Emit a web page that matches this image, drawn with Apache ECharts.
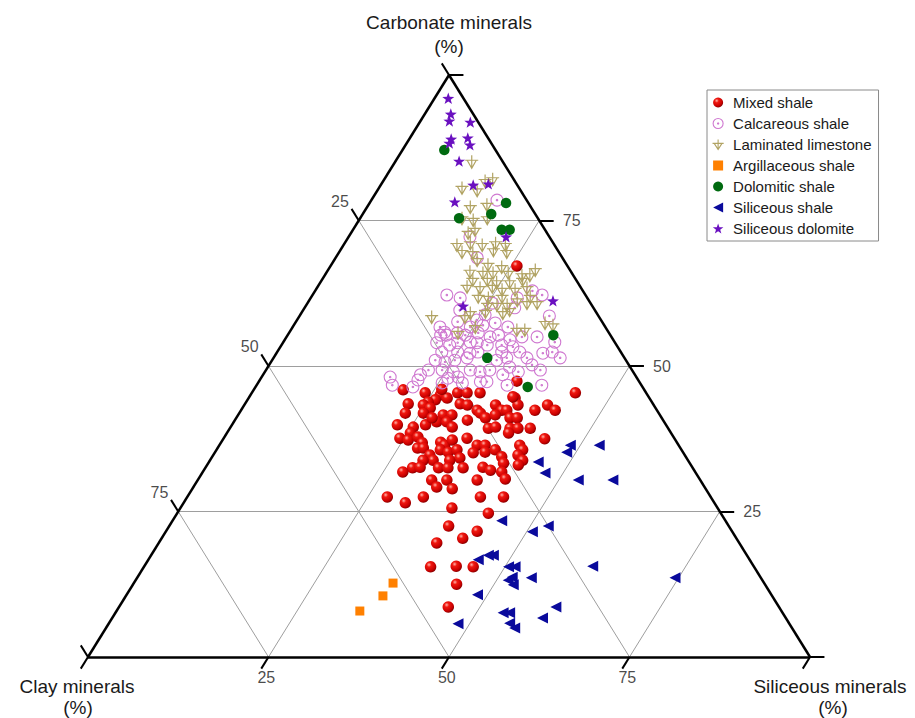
<!DOCTYPE html>
<html>
<head>
<meta charset="utf-8">
<script src="https://cdn.jsdelivr.net/npm/echarts@6/dist/echarts.min.js"></script>
<style>
  html, body { margin: 0; padding: 0; background: #ffffff; }
  #chart { width: 915px; height: 718px; }
</style>
</head>
<body>
<div id="chart"></div>
<script>
// Each sample is [carbonate %, siliceous %]; clay % is the remainder to 100.
const mixedShale = [
  [45.9,20.7],[45.4,24.0],[45.0,26.3],[44.2,26.0],[43.8,25.2],[44.5,27.5],[45.4,28.5],[45.4,29.8],[43.5,22.6],[43.5,29.8],
  [43.3,30.9],[43.3,24.8],[42.8,26.0],[41.9,23.0],[41.9,25.5],[41.6,28.4],[41.6,29.6],[40.4,28.1],[40.4,29.5],[39.5,30.7],
  [42.4,32.7],[43.3,34.8],[42.4,36.1],[42.4,36.8],[44.5,36.9],[43.3,37.9],[42.4,40.7],[43.3,42.0],[42.4,43.5],[45.4,44.8],
  [39.9,22.9],[39.5,25.3],[39.9,26.8],[41.1,27.1],[40.7,32.2],[41.9,33.4],[41.1,34.5],[41.6,35.6],[41.1,37.9],[41.1,38.9],
  [39.3,35.8],[39.5,36.7],[39.3,38.8],[39.3,39.9],[39.3,41.6],[38.5,39.0],[37.6,24.4],[38.5,25.4],[37.3,25.7],[37.8,26.8],
  [36.8,27.9],[35.9,27.7],[35.9,28.5],[36.9,30.4],[36.4,31.2],[37.3,31.8],[37.6,33.7],[36.4,35.7],[36.4,36.8],[35.1,35.8],
  [35.2,37.4],[35.6,38.6],[34.4,40.1],[36.4,41.6],[35.6,42.4],[34.7,42.2],[33.8,43.3],[33.0,43.1],[37.5,44.5],[34.7,30.0],
  [35.6,31.0],[35.2,32.3],[35.6,33.3],[34.2,34.4],[33.8,33.2],[33.8,30.9],[33.8,29.5],[32.5,28.7],[31.8,27.7],[32.6,29.7],
  [32.5,32.3],[32.5,33.6],[32.5,35.7],[32.6,38.4],[32.1,39.7],[33.3,40.9],[31.8,41.4],[30.4,32.4],[30.4,34.5],[30.4,38.7],
  [30.6,42.5],[29.2,33.7],[28.9,36.0],[27.5,27.7],[26.5,30.7],[27.5,32.7],[27.5,40.6],[27.5,43.8],[25.6,37.6],[24.7,43.1],
  [22.5,38.7],[21.6,43.1],[20.4,41.7],[19.6,38.5],[15.5,39.7],[15.6,43.2],[15.5,45.6],[12.5,44.8],[8.6,45.6],[46.0,26.0],
  [45.4,31.6],[44.7,36.5],[47.4,35.7],[67.2,25.8]
];
const calcareousShale = [
  [62.2,18.6],[62.2,31.8],[62.9,30.1],[61.7,20.7],[61.7,28.6],[60.8,25.6],[78.5,17.4],[72.2,16.8],[68.6,19.6],[58.6,34.6],
  [55.3,21.2],[55.3,22.0],[55.7,23.3],[55.3,24.6],[55.7,26.2],[55.0,28.2],[55.3,29.2],[54.5,31.2],[55.0,32.6],[55.0,34.7],
  [54.0,21.3],[53.6,23.3],[54.0,24.2],[54.1,25.9],[54.0,26.9],[53.6,28.5],[53.6,30.5],[53.3,32.2],[54.1,37.6],
  [52.4,22.8],[52.4,25.0],[52.2,26.8],[52.4,27.8],[52.4,31.1],[52.4,33.6],[52.2,36.9],[52.4,38.1],
  [51.0,22.6],[50.7,24.1],[51.0,25.3],[51.4,26.8],[51.0,31.1],[51.4,32.3],[51.4,35.1],[51.4,39.7],[50.2,36.4],[49.8,33.5],
  [49.3,22.5],[49.3,24.4],[49.0,26.1],[49.3,28.3],[49.0,29.8],[49.3,31.0],[49.0,35.1],[49.3,38.0],[48.5,21.8],[48.1,27.2],[48.5,33.2],
  [48.1,17.8],[47.6,21.9],[47.9,25.9],[47.1,25.5],[47.1,28.3],[47.3,30.7],[47.3,31.6],[46.7,34.7],[46.7,39.5],[46.7,18.8],[46.4,21.8],
  [56.7,20.4],[55.8,21.5],[56.7,24.6],[57.0,26.2],[57.4,27.7],[56.7,29.8],[57.6,22.4],[57.9,24.9],[59.6,21.7],[60.0,29.1],[58.8,25.6]
];
const laminatedLimestone = [
  [85.1,10.6],[82.1,15.0],[81.8,14.1],[80.6,11.5],[80.2,13.8],[77.3,14.3],[77.7,16.4],[75.4,14.1],[75.1,15.8],[75.4,17.6],
  [73.4,16.9],[72.9,16.2],[70.8,15.7],[71.1,17.4],[70.8,19.2],[71.1,20.9],[70.8,22.4],[69.6,17.0],[69.4,18.6],[69.9,21.2],
  [69.6,23.2],[68.2,19.8],[67.4,21.7],[67.0,23.8],[66.5,28.7],[66.2,19.8],[66.0,21.7],[66.0,23.1],[66.0,25.2],[65.6,27.3],
  [65.6,28.4],[64.8,20.9],[64.8,22.9],[64.4,24.4],[64.4,26.2],[64.8,27.8],[63.6,20.7],[63.4,22.6],[63.6,24.2],[63.1,25.8],
  [63.1,27.6],[63.4,29.1],[61.9,23.1],[61.7,24.6],[61.9,26.4],[61.9,30.3],[60.5,27.8],[60.5,25.1],[58.4,18.4],[58.4,23.0],
  [59.3,25.4],[60.5,26.4],[59.6,28.6],[61.3,28.8],[60.8,30.4],[60.8,31.8],[57.4,34.6],[56.2,32.4],[56.2,31.3],[56.7,25.3],
  [55.7,23.4],[57.0,35.9],[59.1,23.4],[59.1,27.9]
];
const argillaceousShale = [[12.7,35.9],[10.5,35.6],[7.9,33.7]];
const dolomiticShale = [
  [87.1,5.8],[78.0,18.9],[76.1,17.8],[75.4,13.7],[73.4,20.6],[73.4,21.7],[55.3,36.8],[51.4,29.6],[46.4,37.7]
];
const siliceousShale = [
  [36.4,48.6],[35.2,48.7],[36.4,52.6],[33.5,45.6],[31.6,47.5],[30.4,52.7],[30.4,57.5],[23.4,45.6],[22.5,52.5],[21.5,50.8],
  [17.5,47.4],[17.5,46.7],[16.7,45.7],[15.5,50.5],[15.5,51.4],[13.7,51.9],[13.2,51.6],[13.6,54.6],[12.4,52.7],[10.7,48.6],
  [7.6,53.7],[7.6,54.6],[8.6,60.5],[6.7,59.6],[5.8,55.5],[5.0,56.6],[5.7,48.4],[15.6,62.1],[13.6,74.5]
];
const siliceousDolomite = [
  [96.0,1.9],[93.3,3.6],[92.1,4.0],[91.9,7.0],[89.0,5.8],[88.3,5.9],[89.2,8.0],[88.0,8.9],[85.2,8.8],[81.1,12.8],
  [81.3,14.8],[78.2,11.7],[72.2,21.8],[60.3,21.8],[61.2,33.8]
];

const gridTicks = [25, 50, 75];
const axisTicks = [0, 25, 50, 75, 100];
const tickLabels = ['25', '50', '75'];
const TICK = 2; // tick length, in percent units

const FONT = '"Liberation Sans", Arial, Helvetica, sans-serif';

// ternary (carbonate, siliceous) -> plane: x runs clay corner -> siliceous corner, y is carbonate height
function toPlane(carb, sil) { return [sil + carb / 2, carb]; }
const conv = arr => arr.map(d => toPlane(d[0], d[1]));

// triangle frame
const frame = [
  [toPlane(0, 0), toPlane(0, 100)],
  [toPlane(0, 100), toPlane(100, 0)],
  [toPlane(100, 0), toPlane(0, 0)]
];
// interior grid
const gridLines = [];
gridTicks.forEach(t => {
  gridLines.push([toPlane(t, 0), toPlane(t, 100 - t)]);        // constant carbonate
  gridLines.push([toPlane(0, t), toPlane(100 - t, t)]);        // constant siliceous
  gridLines.push([toPlane(0, 100 - t), toPlane(100 - t, 0)]);  // constant clay
});
// outward ticks
const tickLines = [];
axisTicks.forEach(t => {
  tickLines.push([toPlane(0, t), toPlane(-TICK, t)]);                          // siliceous (bottom)
  tickLines.push([toPlane(t, 100 - t), toPlane(t, 100 - t + TICK)]);           // carbonate (right)
  tickLines.push([toPlane(100 - t, 0), toPlane(100 - t + TICK, -TICK)]);       // clay (left)
});
// tick label anchors
const labelData = [];
gridTicks.forEach((t, i) => {
  labelData.push({ name: tickLabels[i], value: toPlane(-3.6, t + 1.5) });       // siliceous
  labelData.push({ name: tickLabels[i], value: toPlane(t, 100 - t + 4.5) });    // carbonate
  labelData.push({ name: tickLabels[i], value: toPlane(103.3 - t, -4.25) });    // clay
});

const redBall = {
  type: 'radial', x: 0.36, y: 0.32, r: 0.68,
  colorStops: [
    { offset: 0, color: '#ffb4aa' },
    { offset: 0.3, color: '#f01810' },
    { offset: 0.8, color: '#c80000' },
    { offset: 1, color: '#8c0000' }
  ]
};
const PINK = '#cf78d0';
const TAN = '#b1a363';
const ringPath = 'path://M0,-10A10,10,0,1,1,0,10A10,10,0,1,1,0,-10Z M0,-1.2A1.2,1.2,0,1,1,0,1.2A1.2,1.2,0,1,1,0,-1.2Z';
const limePath = 'path://M-10,-3L10,-3M-7,-3L0,8L7,-3M0,-10L0,8';
const starPath = 'path://M0,-10L2.35,-3.24L9.51,-3.09L3.8,1.24L5.88,8.09L0,4L-5.88,8.09L-3.8,1.24L-9.51,-3.09L-2.35,-3.24Z';
const squarePath = 'path://M-5,-5L5,-5L5,5L-5,5Z';
const leftTriPath = 'path://M-8,0L6,-7L6,7Z';

const segSeries = (data, color, width, z) => ({
  type: 'lines', coordinateSystem: 'cartesian2d', clip: false, silent: true, z: z,
  lineStyle: { color: color, width: width, opacity: 1, cap: 'butt' },
  data: data.map(c => ({ coords: c }))
});

const titleText = (text, x, y) => ({
  type: 'text', x: x, y: y,
  style: { text: text, font: '19px ' + FONT, fill: '#1a1a1a', align: 'center', verticalAlign: 'middle' }
});

const chart = echarts.init(document.getElementById('chart'), null, { renderer: 'svg' });
chart.setOption({
  animation: false,
  backgroundColor: '#ffffff',
  grid: { left: 88, right: 105, top: 75, bottom: 61 },
  xAxis: { type: 'value', min: 0, max: 100, show: false },
  yAxis: { type: 'value', min: 0, max: 100, show: false },
  legend: {
    orient: 'vertical', left: 707, top: 90,
    padding: [5, 7, 5, 5], itemWidth: 20, itemHeight: 10, itemGap: 6,
    borderColor: '#8a8a8a', borderWidth: 1, backgroundColor: '#ffffff',
    textStyle: { fontSize: 15, lineHeight: 14, height: 14, color: '#1a1a1a', fontFamily: FONT },
    data: [
      { name: 'Mixed shale', icon: 'circle' },
      { name: 'Calcareous shale', icon: ringPath,
        itemStyle: { color: 'rgba(255,255,255,0)', borderColor: PINK, borderWidth: 1.1 } },
      { name: 'Laminated limestone', icon: limePath,
        itemStyle: { color: 'rgba(255,255,255,0)', borderColor: TAN, borderWidth: 1.1 } },
      { name: 'Argillaceous shale', icon: squarePath },
      { name: 'Dolomitic shale', icon: 'circle' },
      { name: 'Siliceous shale', icon: leftTriPath },
      { name: 'Siliceous dolomite', icon: starPath }
    ]
  },
  graphic: [
    titleText('Carbonate minerals', 449, 22),
    titleText('(%)', 449, 46),
    titleText('Clay minerals', 77, 686),
    titleText('(%)', 78, 707),
    titleText('Siliceous minerals', 830, 686),
    titleText('(%)', 833, 707)
  ],
  series: [
    segSeries(gridLines, '#9e9e9e', 1, 1),
    segSeries(tickLines, '#000000', 2, 2),
    segSeries(frame, '#000000', 2.5, 3),
    {
      type: 'scatter', clip: false, silent: true, symbolSize: 0, z: 3,
      label: { show: true, position: 'inside', formatter: p => p.name, fontSize: 16, color: '#1a1a1a', fontFamily: FONT },
      data: labelData
    },
    {
      name: 'Mixed shale', type: 'scatter', clip: false, z: 5, symbol: 'circle', symbolSize: 11.5,
      itemStyle: { color: redBall, opacity: 1 }, data: conv(mixedShale)
    },
    {
      name: 'Calcareous shale', type: 'scatter', clip: false, z: 5, symbol: ringPath, symbolSize: 12,
      itemStyle: { color: 'rgba(255,255,255,0)', borderColor: PINK, borderWidth: 1.1, opacity: 1 },
      data: conv(calcareousShale)
    },
    {
      name: 'Laminated limestone', type: 'scatter', clip: false, z: 5, symbol: limePath, symbolSize: 13,
      itemStyle: { color: 'rgba(255,255,255,0)', borderColor: TAN, borderWidth: 1.2, opacity: 1 },
      data: conv(laminatedLimestone)
    },
    {
      name: 'Argillaceous shale', type: 'scatter', clip: false, z: 5, symbol: 'rect', symbolSize: 9,
      itemStyle: { color: '#ff8000', opacity: 1 }, data: conv(argillaceousShale)
    },
    {
      name: 'Dolomitic shale', type: 'scatter', clip: false, z: 5, symbol: 'circle', symbolSize: 10.5,
      itemStyle: { color: '#006a10', opacity: 1 }, data: conv(dolomiticShale)
    },
    {
      name: 'Siliceous shale', type: 'scatter', clip: false, z: 5, symbol: 'triangle', symbolRotate: 90, symbolSize: 11,
      itemStyle: { color: '#0a0a9c', opacity: 1 }, data: conv(siliceousShale)
    },
    {
      name: 'Siliceous dolomite', type: 'scatter', clip: false, z: 5, symbol: starPath, symbolKeepAspect: true, symbolSize: 12,
      itemStyle: { color: '#6a10c0', opacity: 1 }, data: conv(siliceousDolomite)
    }
  ]
});
</script>
</body>
</html>
